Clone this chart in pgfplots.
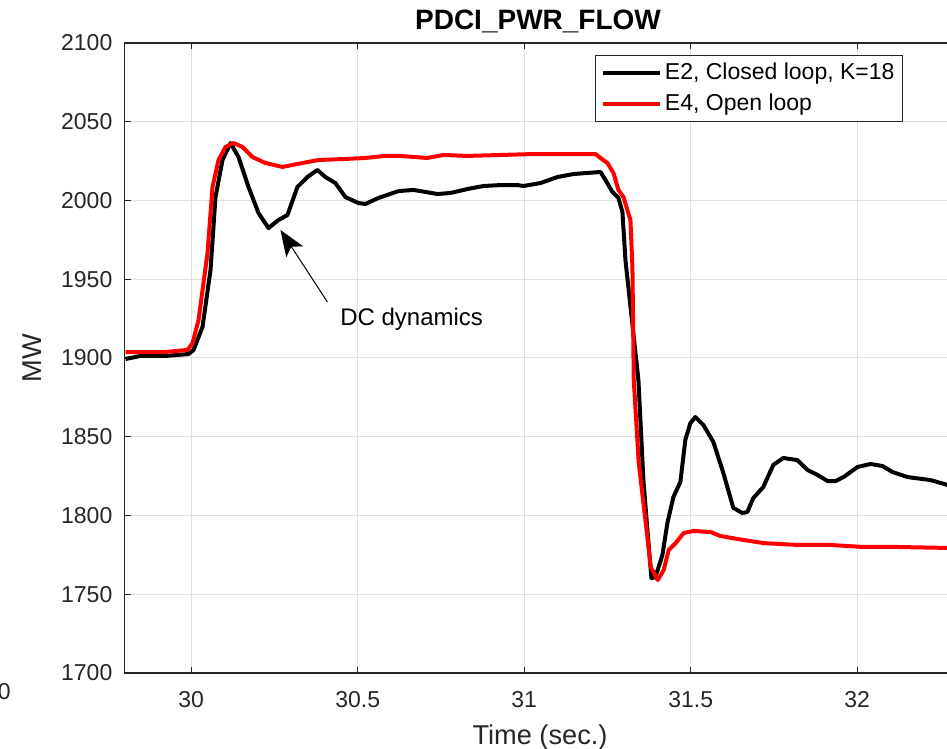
\documentclass[border=0pt]{standalone}
\usepackage{fontspec}
\setmainfont{Liberation Sans}
\usepackage{pgfplots}
\pgfplotsset{compat=1.18}
\usetikzlibrary{arrows.meta}

\definecolor{axgray}{RGB}{38,38,38}
\definecolor{gridgray}{RGB}{223,223,223}

% PDCI power flow: closed-loop (K=18) vs open-loop response
\pgfplotstableread{
t        p
29.803   1899.4
29.848   1901.3
29.923   1901.3
29.992   1902.5
30.007   1905.1
30.034   1919.7
30.058   1955.9
30.073   2002.2
30.094   2025.7
30.118   2036.5
30.142   2027.6
30.172   2008.6
30.202   1992.1
30.232   1982.5
30.262   1987.6
30.289   1990.8
30.319   2008.6
30.349   2014.9
30.379   2019.4
30.403   2014.9
30.433   2011.1
30.463   2002.2
30.502   1998.4
30.523   1997.8
30.562   2001.6
30.623   2006.0
30.668   2006.7
30.740   2004.1
30.779   2004.8
30.830   2007.3
30.878   2009.2
30.929   2009.8
30.980   2009.8
30.998   2009.2
31.049   2011.1
31.100   2014.9
31.148   2016.8
31.190   2017.5
31.229   2018.1
31.244   2013.0
31.265   2005.4
31.283   2001.6
31.295   1992.7
31.304   1962.2
31.343   1886.0
31.358   1822.5
31.370   1790.8
31.382   1760.3
31.394   1760.9
31.415   1774.9
31.430   1795.2
31.448   1811.7
31.469   1821.3
31.484   1848.1
31.499   1858.7
31.514   1862.5
31.538   1857.5
31.568   1846.7
31.598   1827.0
31.628   1804.8
31.655   1801.6
31.670   1802.2
31.688   1811.1
31.718   1818.1
31.748   1832.1
31.778   1836.5
31.820   1835.2
31.851   1828.9
31.881   1825.7
31.911   1821.9
31.935   1821.9
31.959   1824.4
32.001   1830.8
32.040   1832.7
32.076   1831.4
32.106   1827.6
32.151   1824.4
32.220   1822.5
32.271   1819.4
32.300   1818.5
}\closedloop

\pgfplotstableread{
t        p
29.803   1903.8
29.923   1903.8
29.989   1905.1
30.004   1909.5
30.022   1924.1
30.049   1966.7
30.064   2008.6
30.082   2025.7
30.103   2034.0
30.127   2036.5
30.154   2034.0
30.184   2027.6
30.223   2023.8
30.274   2021.3
30.334   2023.8
30.382   2025.7
30.454   2026.3
30.523   2027.0
30.583   2028.3
30.628   2028.3
30.709   2027.0
30.757   2028.9
30.829   2028.3
30.928   2028.9
31.027   2029.5
31.214   2029.5
31.229   2027.0
31.250   2023.8
31.268   2017.5
31.283   2006.7
31.298   2002.2
31.319   1987.6
31.325   1957.8
31.329   1886.0
31.344   1833.3
31.365   1795.2
31.380   1767.3
31.401   1759.0
31.419   1765.4
31.434   1778.1
31.455   1782.5
31.479   1788.9
31.509   1790.2
31.560   1789.5
31.589   1787.0
31.640   1785.1
31.718   1782.5
31.820   1781.3
31.919   1781.3
32.019   1780.0
32.121   1780.0
32.271   1779.4
32.300   1779.3
}\openloop

\begin{document}
\begin{tikzpicture}
\begin{axis}[
  scale only axis,
  width=416.25pt, height=315pt,
  xmin=29.8, xmax=32.3,
  ymin=1700, ymax=2100,
  xtick={30,30.5,31,31.5,32},
  ytick={1700,1750,...,2100},
  scaled ticks=false,
  /pgf/number format/1000 sep={},
  /pgf/number format/assume math mode=true,
  tick align=inside,
  major tick length=3pt,
  axis line style={draw=axgray, line width=0.6pt},
  tick style={draw=axgray, line width=0.6pt},
  grid=major,
  grid style={draw=gridgray, line width=0.5pt},
  ticklabel style={font=\fontsize{11.5}{13}\selectfont, text=axgray},
  xticklabel style={anchor=base, yshift=-17pt},
  yticklabel style={anchor=east, xshift=-2.6pt},
  title={\textbf{PDCI\_PWR\_FLOW}},
  every axis title shift=0pt,
  title style={at={(axis description cs:0.4966,1)}, anchor=base, yshift=6.5pt,
    font=\fontsize{14}{16}\selectfont},
  xlabel={Time (sec.)},
  xlabel style={at={(axis description cs:0.499,-0.1016)}, anchor=center,
    font=\fontsize{13.6}{15}\selectfont, text=axgray},
  ylabel={MW},
  ylabel style={at={(axis description cs:-0.1112,0.5)}, anchor=center,
    font=\fontsize{13.6}{15}\selectfont, text=axgray},
  legend cell align=left,
  legend image code/.code={\draw[#1] (0pt,0pt) -- (28.5pt,0pt);},
  legend style={at={(axis description cs:0.935,0.981)}, anchor=north east,
    draw=axgray, line width=0.5pt, fill=white,
    font=\fontsize{11.5}{13}\selectfont,
    inner xsep=2.5pt, inner ysep=2pt, row sep=2pt,
    nodes={inner sep=1.5pt, text height=8.5pt, text depth=2pt}},
  clip=true,
]
\addplot[black, line width=2pt, line join=round] table[x=t, y=p] {\closedloop};
\addlegendentry{E2, Closed loop, K=18}
\addplot[red, line width=2pt, line join=round] table[x=t, y=p] {\openloop};
\addlegendentry{E4, Open loop}

\draw[-{Stealth[length=13pt, width=10pt, inset=3pt]}, line width=0.5pt, black]
  (axis cs:30.409,1935.6) -- (axis cs:30.268,1981.3);
\node[font=\fontsize{12}{14}\selectfont, anchor=center] at (axis cs:30.662,1924.8) {DC dynamics};

\coordinate (sw) at (rel axis cs:0,0);
\end{axis}
% fragment of the neighbouring panel's tick label at the far left
\node[anchor=base east, font=\fontsize{11.5}{13}\selectfont, text=axgray, inner sep=0pt]
  at ([xshift=-56.8pt, yshift=-13pt]sw) {0};
\pgfresetboundingbox
\path ([xshift=-62.3pt, yshift=-38pt]sw) rectangle ([xshift=411.2pt, yshift=336.5pt]sw);
\end{tikzpicture}
\end{document}
